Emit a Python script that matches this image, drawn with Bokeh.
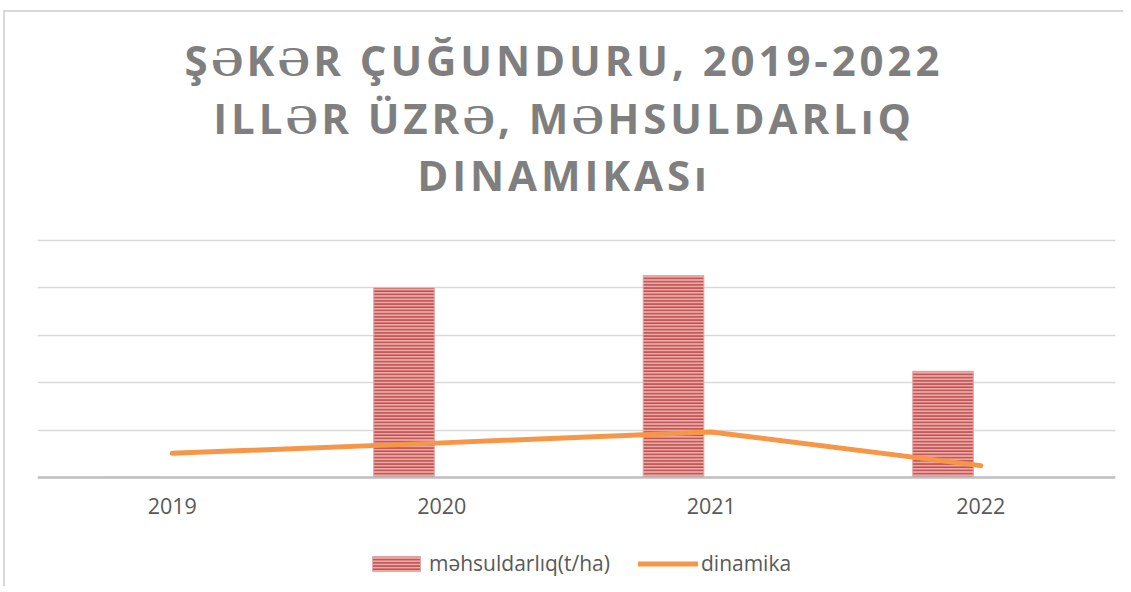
from bokeh.plotting import figure
from bokeh.models import ColumnDataSource, FactorRange, Range1d, Legend, LegendItem, Div, FixedTicker
from bokeh.transform import dodge
from bokeh.layouts import column
from bokeh.embed import file_html
from bokeh.resources import INLINE

# ---- data ----
years = ["2019", "2020", "2021", "2022"]
mehsuldarliq = [0.0, 40.0, 42.6, 22.4]
dinamika = [5.1, 7.3, 9.6, 2.5]
title_lines = ["ŞƏKƏR ÇUĞUNDURU, 2019-2022", "ILLƏR ÜZRƏ, MƏHSULDARLıQ", "DINAMIKASı"]
series_names = ["məhsuldarlıq(t/ha)", "dinamika"]
grid_ticks = [0, 10, 20, 30, 40, 50]

src = ColumnDataSource(dict(year=years, m=mehsuldarliq, d=dinamika))

title_html = (
    '<div style="font-family:\'Open Sans\';font-weight:bold;font-size:42px;'
    'letter-spacing:3.9px;color:#7f7f7f;text-align:center;line-height:57.5px;'
    'padding-top:19px;width:1118px;">' + "<br>".join(title_lines) + "</div>"
)
title_div = Div(text=title_html, width=1118, height=200, margin=0)

p = figure(
    x_range=FactorRange(*years, range_padding=0),
    y_range=Range1d(-23, 51.05),
    width=1118, height=374,
    output_backend="svg", toolbar_location=None,
    min_border_left=32, min_border_right=8, min_border_top=23, min_border_bottom=0,
    margin=0,
)
p.outline_line_color = None
p.background_fill_color = "white"
p.border_fill_color = "white"
p.yaxis.visible = False
p.xgrid.visible = False
p.ygrid.ticker = FixedTicker(ticks=grid_ticks)
p.ygrid.grid_line_color = "#d9d9d9"
p.ygrid.grid_line_width = 1.5

ax = p.xaxis[0]
ax.fixed_location = 0
ax.major_tick_line_color = None
ax.minor_tick_line_color = None
ax.major_tick_out = 0
ax.major_tick_in = 0
ax.axis_line_color = "#bfbfbf"
ax.axis_line_width = 2.5
ax.major_label_text_font = "Open Sans"
ax.major_label_text_font_size = "21.5px"
ax.major_label_text_color = "#595959"
ax.major_label_standoff = 21

bars = p.vbar(
    x=dodge("year", -0.14, range=p.x_range), top="m", width=0.225, source=src,
    fill_color="#e8a9a8", line_color="#e3a8a7", line_width=1,
    hatch_pattern="horizontal_line", hatch_color="#c0504d",
    hatch_scale=3.2, hatch_weight=1.8, hatch_alpha=1.0,
)
line = p.line(
    x="year", y="d", source=src, line_color="#f79646", line_width=5,
    line_cap="round", line_join="round",
)

legend = Legend(
    items=[LegendItem(label=series_names[0], renderers=[bars]),
           LegendItem(label=series_names[1], renderers=[line])],
    orientation="horizontal", location=(329, 9),
    glyph_width=60, glyph_height=19, label_standoff=3, spacing=28,
    padding=0, margin=0, border_line_color=None, background_fill_alpha=0,
    label_text_font="Open Sans", label_text_font_size="21px", label_text_color="#595959",
)
p.add_layout(legend)

layout = column(
    title_div, p, margin=(10, 0, 0, 3),
    styles={"border-top": "2px solid #d9d9d9", "border-left": "2px solid #d9d9d9",
            "background-color": "white"},
)

open("out.html", "w").write(file_html(layout, INLINE))
